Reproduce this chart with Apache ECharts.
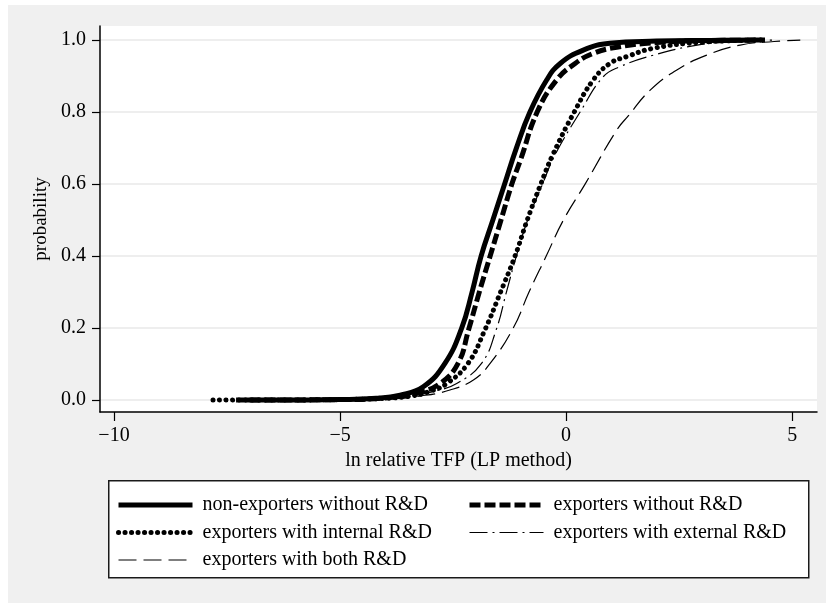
<!DOCTYPE html>
<html>
<head>
<meta charset="utf-8">
<script src="https://cdn.jsdelivr.net/npm/echarts@6/dist/echarts.min.js"></script>
<style>
html,body{margin:0;padding:0;background:#fff;}
#wrap{position:relative;width:826px;height:603px;background:#fff;overflow:hidden;}
#chart{position:absolute;left:8px;top:5px;width:818px;height:598px;}
</style>
</head>
<body>
<div id="wrap"><div id="chart"></div></div>
<script>
// ---- data (x = ln relative TFP, y = cumulative probability) ----
const seriesNames = [
  'non-exporters without R&D',
  'exporters without R&D',
  'exporters with internal R&D',
  'exporters with external R&D',
  'exporters with both R&D'
];
const nonExpNoRD = [[-7.3,0],[-6,0.0005],[-5,0.0015],[-4.2,0.005],[-3.67,0.014],[-3.16,0.037],[-2.68,0.102],[-2.31,0.2],[-2.08,0.3],[-1.88,0.4],[-1.62,0.5],[-1.36,0.6],[-1.1,0.7],[-0.8,0.8],[-0.43,0.889],[-0.13,0.935],[0.38,0.972],[0.97,0.991],[2.0,0.997],[3.2,0.999],[4.3,1.0]];
const expNoRD = [[-7.0,0],[-6,0.0005],[-5,0.0015],[-4,0.006],[-3.3,0.02],[-2.79,0.046],[-2.39,0.102],[-2.16,0.194],[-1.92,0.3],[-1.68,0.4],[-1.44,0.5],[-1.2,0.6],[-1.0,0.67],[-0.64,0.8],[-0.21,0.889],[0.2,0.935],[0.6,0.963],[1.12,0.98],[2.0,0.993],[3.0,0.998],[4.4,1.0]];
const expIntRD = [[-7.81,0],[-6.5,0.0003],[-5,0.0015],[-4,0.005],[-3.4,0.012],[-3.0,0.025],[-2.64,0.046],[-2.17,0.102],[-1.8,0.194],[-1.45,0.3],[-1.13,0.4],[-0.86,0.5],[-0.56,0.6],[-0.3,0.68],[0.18,0.8],[0.6,0.889],[0.97,0.935],[1.34,0.954],[1.93,0.977],[3.0,0.994],[4.4,1.0]];
const expExtRD = [[-6.0,0],[-5,0.001],[-4.2,0.004],[-3.5,0.01],[-2.9,0.025],[-2.42,0.046],[-1.87,0.102],[-1.55,0.194],[-1.32,0.3],[-1.1,0.4],[-0.85,0.5],[-0.52,0.6],[-0.25,0.68],[0.31,0.8],[0.82,0.898],[1.19,0.926],[1.93,0.958],[2.9,0.986],[3.6,0.994],[4.6,1.0]];
const expBothRD = [[-5.5,0],[-4,0.003],[-3.2,0.012],[-2.57,0.028],[-2.05,0.056],[-1.68,0.102],[-1.17,0.2],[-0.82,0.3],[-0.44,0.4],[-0.06,0.5],[0.42,0.6],[1.12,0.75],[1.38,0.79],[1.86,0.861],[2.45,0.917],[3.11,0.958],[3.85,0.986],[4.6,0.996],[5.18,1.0]];
const xTicks = [-10, -5, 0, 5];
const yTicks = [0, 0.2, 0.4, 0.6, 0.8, 1.0];

const FONT = 'Liberation Serif';
const chart = echarts.init(document.getElementById('chart'), null, {renderer:'canvas'});

const styles = [
  {width:5, type:'solid', cap:'butt'},
  {width:5, type:[11,4], cap:'butt'},
  {width:5, type:[0.1,6.4], cap:'round'},
  {width:1.2, type:[18,5,2,5], cap:'butt'},
  {width:1.2, type:[18,7], cap:'butt'}
];
const datasets = [nonExpNoRD, expNoRD, expIntRD, expExtRD, expBothRD];

const series = datasets.map((d, i) => ({
  name: seriesNames[i],
  type: 'line',
  data: d,
  symbol: 'none',
  showSymbol: false,
  smooth: 0.45,
  lineStyle: Object.assign({color:'#000', join:'round'}, styles[i]),
  itemStyle: {color:'#000'},
  z: 2 + i,
  animation: false
}));

const legendCommon = {
  orient: 'vertical',
  itemWidth: 74,
  itemHeight: 14,
  itemGap: 7.5,
  padding: 0,
  selectedMode: false,
  itemStyle: {opacity: 0},
  lineStyle: {width: 'inherit'},
  textStyle: {fontFamily: FONT, fontSize: 20, color: '#000', lineHeight: 20, padding:[0,0,0,5]}
};

chart.setOption({
  backgroundColor: '#f0f0f0',
  animation: false,
  textStyle: {fontFamily: FONT},
  grid: {left: 92, right: 9, top: 21, bottom: 191, show: true, backgroundColor: '#fff', borderWidth: 0},
  xAxis: {
    type: 'value', min: -10.31, max: 5.55,
    name: 'ln relative TFP (LP method)', nameLocation: 'middle', nameGap: 37,
    nameTextStyle: {fontFamily: FONT, fontSize: 20, color: '#000'},
    axisLine: {show: true, onZero: false, lineStyle: {color: '#000', width: 1.5}},
    axisTick: {show: true, inside: false, length: 9, lineStyle: {color: '#000', width: 1.2}, customValues: xTicks},
    axisLabel: {customValues: xTicks, margin: 14, fontFamily: FONT, fontSize: 20, color: '#000',
      formatter: v => String(v).replace('-', '\u2212')},
    splitLine: {show: false}
  },
  yAxis: {
    type: 'value', min: -0.033, max: 1.039,
    name: 'probability', nameLocation: 'middle', nameGap: 45,
    nameTextStyle: {fontFamily: FONT, fontSize: 19, color: '#000'},
    axisLine: {show: true, onZero: false, lineStyle: {color: '#000', width: 1.5}},
    axisTick: {show: true, inside: false, length: 8, lineStyle: {color: '#000', width: 1.2}, customValues: yTicks},
    axisLabel: {customValues: yTicks, margin: 14, fontFamily: FONT, fontSize: 20, color: '#000',
      formatter: v => v.toFixed(1)},
    splitLine: {show: true, lineStyle: {color: '#e8e8e8', width: 1.6}}
  },
  graphic: [{
    type: 'rect', left: 100, top: 475, z: -1,
    shape: {width: 700, height: 97},
    style: {fill: '#fff', stroke: '#1a1a1a', lineWidth: 1.5}
  }],
  legend: [
    Object.assign({}, legendCommon, {left: 108, top: 490, data: [seriesNames[0], seriesNames[2], seriesNames[4]]}),
    Object.assign({}, legendCommon, {left: 459, top: 490, data: [seriesNames[1], seriesNames[3]]})
  ],
  series: series
});
</script>
</body>
</html>
